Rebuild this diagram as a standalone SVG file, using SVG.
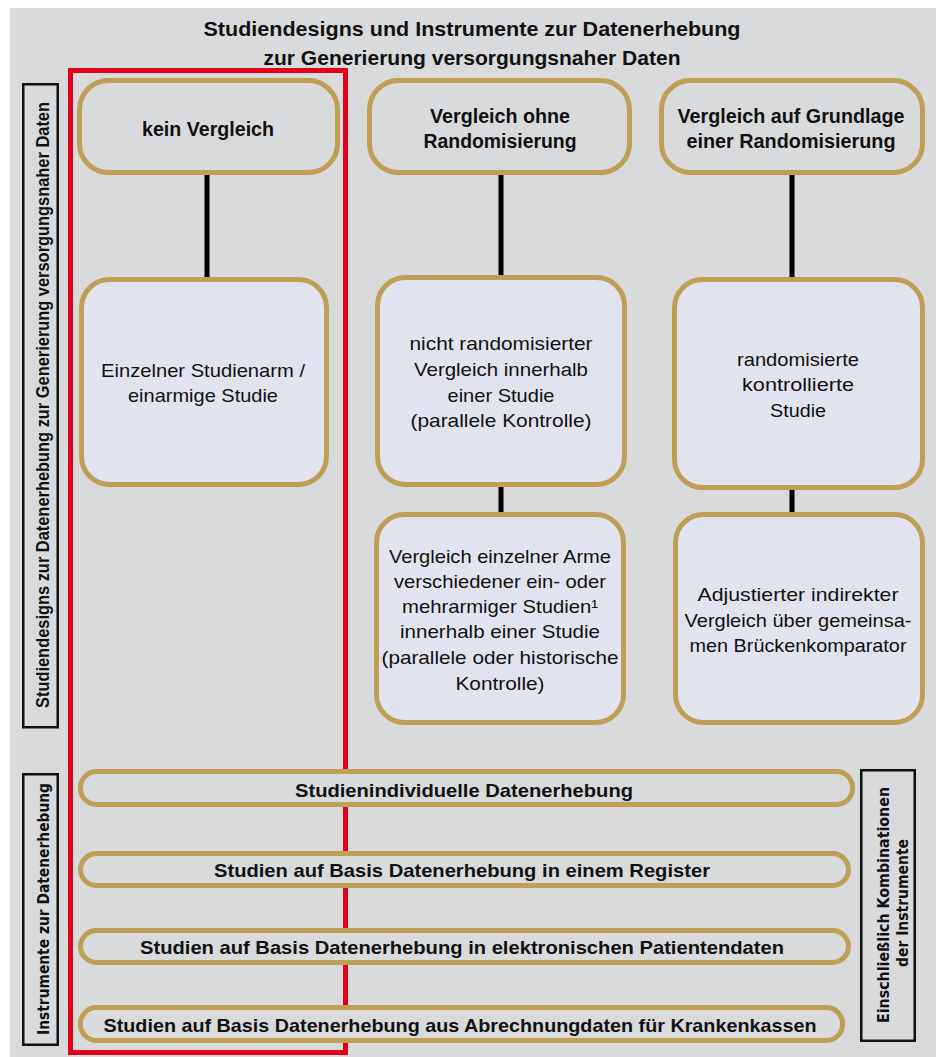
<svg xmlns="http://www.w3.org/2000/svg" width="936" height="1057" viewBox="0 0 936 1057">
<style>
.bg{fill:#d9dadc}
.head{fill:#d9dadc;stroke:#bf9e56;stroke-width:5}
.node{fill:#e1e3ef;stroke:#bf9e56;stroke-width:5}
.bar{fill:#d9dadc;stroke:#bf9e56;stroke-width:5}
.lbl{fill:none;stroke:#111;stroke-width:2.5}
.conn{stroke:#000;stroke-width:5}
.t{font-family:"Liberation Sans",Arial,sans-serif;fill:#111;text-anchor:middle}
.b{font-weight:bold}
.r{font-size:19px}
.h{font-size:20px;font-weight:bold}
.w{font-family:"DejaVu Sans",Verdana,sans-serif;font-weight:bold;font-size:16px;fill:#111;text-anchor:middle}
</style>
<rect class="bg" x="10" y="8" width="926" height="1049"/>
<g id="title">
<text class="t b" x="472" y="36" font-size="21" textLength="537" lengthAdjust="spacingAndGlyphs">Studiendesigns und Instrumente zur Datenerhebung</text>
<text class="t b" x="472" y="65" font-size="21" textLength="417" lengthAdjust="spacingAndGlyphs">zur Generierung versorgungsnaher Daten</text>
</g>
<g id="highlight">
<rect x="70.5" y="70.5" width="275" height="982" fill="none" stroke="#e2001a" stroke-width="5"/>
</g>
<g id="label-studiendesigns">
<rect class="lbl" x="23.25" y="84.25" width="34.5" height="643"/>
<text class="t b" transform="translate(49,405) rotate(-90)" font-size="18" textLength="606" lengthAdjust="spacingAndGlyphs">Studiendesigns zur Datenerhebung zur Generierung versorgungsnaher Daten</text>
</g>
<g id="label-instrumente">
<rect class="lbl" x="23.25" y="774.25" width="34.5" height="270.5"/>
<text class="w" transform="translate(49,909) rotate(-90)" textLength="252" lengthAdjust="spacingAndGlyphs">Instrumente zur Datenerhebung</text>
</g>
<g id="label-kombinationen">
<rect class="lbl" x="861.25" y="770.25" width="53.5" height="270.5"/>
<text class="w" transform="translate(889,905) rotate(-90)" textLength="236" lengthAdjust="spacingAndGlyphs">Einschließlich Kombinationen</text>
<text class="w" transform="translate(908,903) rotate(-90)" textLength="128" lengthAdjust="spacingAndGlyphs">der Instrumente</text>
</g>
<g id="connectors">
<line class="conn" x1="207" y1="175" x2="207" y2="278"/>
<line class="conn" x1="501" y1="175" x2="501" y2="276"/>
<line class="conn" x1="792" y1="175" x2="792" y2="278"/>
<line class="conn" x1="501" y1="486" x2="501" y2="513"/>
<line class="conn" x1="792" y1="489" x2="792" y2="513"/>
</g>
<g id="kein-vergleich">
<rect class="head" x="79.5" y="80.5" width="258" height="92" rx="29"/>
<text class="t h" x="208" y="136" textLength="132" lengthAdjust="spacingAndGlyphs">kein Vergleich</text>
</g>
<g id="vergleich-ohne">
<rect class="head" x="369.5" y="80.5" width="260" height="92" rx="29"/>
<text class="t h" x="500" y="123" textLength="140" lengthAdjust="spacingAndGlyphs">Vergleich ohne</text>
<text class="t h" x="500" y="148" textLength="153" lengthAdjust="spacingAndGlyphs">Randomisierung</text>
</g>
<g id="vergleich-random">
<rect class="head" x="661.5" y="80.5" width="261" height="92" rx="29"/>
<text class="t h" x="791" y="123" textLength="227" lengthAdjust="spacingAndGlyphs">Vergleich auf Grundlage</text>
<text class="t h" x="791" y="148" textLength="209" lengthAdjust="spacingAndGlyphs">einer Randomisierung</text>
</g>
<g id="einzelner-studienarm">
<rect class="node" x="81.5" y="279.5" width="245" height="205" rx="28"/>
<text class="t r" x="203" y="377" textLength="204" lengthAdjust="spacingAndGlyphs">Einzelner Studienarm /</text>
<text class="t r" x="203" y="402" textLength="150" lengthAdjust="spacingAndGlyphs">einarmige Studie</text>
</g>
<g id="nicht-randomisiert">
<rect class="node" x="377.5" y="277.5" width="247" height="207" rx="28"/>
<text class="t r" x="501" y="350" textLength="183" lengthAdjust="spacingAndGlyphs">nicht randomisierter</text>
<text class="t r" x="501" y="376" textLength="174" lengthAdjust="spacingAndGlyphs">Vergleich innerhalb</text>
<text class="t r" x="501" y="402" textLength="107" lengthAdjust="spacingAndGlyphs">einer Studie</text>
<text class="t r" x="501" y="427" textLength="181" lengthAdjust="spacingAndGlyphs">(parallele Kontrolle)</text>
</g>
<g id="rct">
<rect class="node" x="674.5" y="279.5" width="248" height="208" rx="28"/>
<text class="t r" x="798" y="366" textLength="122" lengthAdjust="spacingAndGlyphs">randomisierte</text>
<text class="t r" x="798" y="391" textLength="112" lengthAdjust="spacingAndGlyphs">kontrollierte</text>
<text class="t r" x="798" y="417" textLength="56" lengthAdjust="spacingAndGlyphs">Studie</text>
</g>
<g id="vergleich-arme">
<rect class="node" x="376.5" y="514.5" width="247" height="208" rx="28"/>
<text class="t r" x="500" y="563" textLength="222" lengthAdjust="spacingAndGlyphs">Vergleich einzelner Arme</text>
<text class="t r" x="500" y="588" textLength="212" lengthAdjust="spacingAndGlyphs">verschiedener ein- oder</text>
<text class="t r" x="500" y="613" textLength="196" lengthAdjust="spacingAndGlyphs">mehrarmiger Studien¹</text>
<text class="t r" x="500" y="638" textLength="200" lengthAdjust="spacingAndGlyphs">innerhalb einer Studie</text>
<text class="t r" x="500" y="664" textLength="237" lengthAdjust="spacingAndGlyphs">(parallele oder historische</text>
<text class="t r" x="500" y="690" textLength="89" lengthAdjust="spacingAndGlyphs">Kontrolle)</text>
</g>
<g id="indirekter-vergleich">
<rect class="node" x="675.5" y="514.5" width="247" height="208" rx="28"/>
<text class="t r" x="798" y="601" textLength="201" lengthAdjust="spacingAndGlyphs">Adjustierter indirekter</text>
<text class="t r" x="798" y="627" textLength="227" lengthAdjust="spacingAndGlyphs">Vergleich über gemeinsa-</text>
<text class="t r" x="798" y="652" textLength="217" lengthAdjust="spacingAndGlyphs">men Brückenkomparator</text>
</g>
<g id="bar-studienindividuell">
<rect class="bar" x="80.5" y="771.5" width="772" height="33" rx="16"/>
<text class="t b r" x="464" y="797" textLength="338" lengthAdjust="spacingAndGlyphs">Studienindividuelle Datenerhebung</text>
</g>
<g id="bar-register">
<rect class="bar" x="80.5" y="853.5" width="768" height="32" rx="16"/>
<text class="t b r" x="462" y="877" textLength="496" lengthAdjust="spacingAndGlyphs">Studien auf Basis Datenerhebung in einem Register</text>
</g>
<g id="bar-patientendaten">
<rect class="bar" x="80.5" y="930.5" width="768" height="32" rx="16"/>
<text class="t b r" x="462" y="954" textLength="644" lengthAdjust="spacingAndGlyphs">Studien auf Basis Datenerhebung in elektronischen Patientendaten</text>
</g>
<g id="bar-abrechnungsdaten">
<rect class="bar" x="80.5" y="1007.5" width="762" height="33" rx="16"/>
<text class="t b r" x="460" y="1032" textLength="713" lengthAdjust="spacingAndGlyphs">Studien auf Basis Datenerhebung aus Abrechnungdaten für Krankenkassen</text>
</g>
</svg>
